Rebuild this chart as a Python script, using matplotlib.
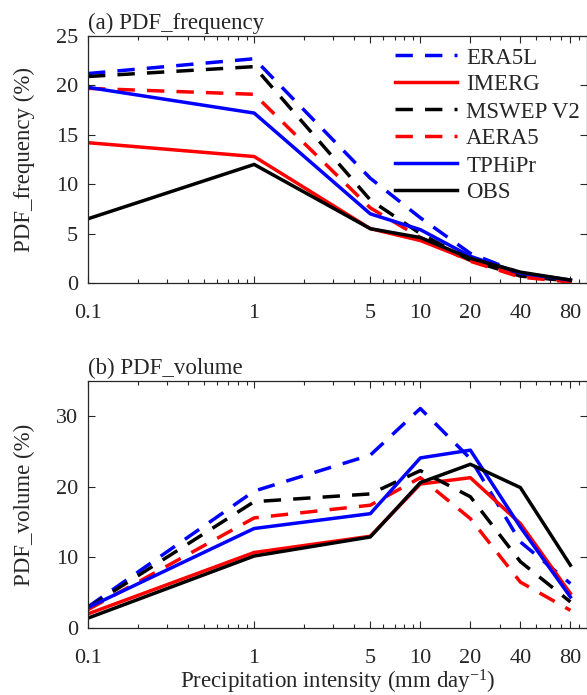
import numpy as np
import matplotlib
matplotlib.use("Agg")
import matplotlib.pyplot as plt

plt.rcParams['font.family'] = ['Liberation Serif', 'DejaVu Serif']
plt.rcParams['mathtext.fontset'] = 'custom'
plt.rcParams['mathtext.rm'] = 'Liberation Serif'
plt.rcParams['mathtext.default'] = 'regular'

# precipitation intensity bins (mm/day)
x = [0.1, 1, 5, 10, 20, 40, 80]
xtick_labels = ['0.1', '1', '5', '10', '20', '40', '80']

names = ['ERA5L', 'IMERG', 'MSWEP V2', 'AERA5', 'TPHiPr', 'OBS']
colors = ['b', 'r', 'k', 'r', 'b', 'k']
styles = ['--', '-', '--', '--', '-', '-']

# PDF of frequency (%)
freq_era5l = [21.2, 22.7, 10.6, 6.6, 3.0, 1.0, 0.2]
freq_imerg = [14.2, 12.8, 5.5, 4.3, 2.3, 0.8, 0.2]
freq_mswep = [20.9, 21.9, 8.4, 5.0, 2.3, 0.7, 0.2]
freq_aera5 = [19.7, 19.1, 7.6, 4.6, 2.2, 0.6, 0.1]
freq_tphipr = [19.8, 17.2, 7.0, 5.4, 2.7, 1.0, 0.3]
freq_obs = [6.5, 12.0, 5.5, 4.6, 2.5, 1.1, 0.3]

# PDF of volume (%)
vol_era5l = [3.0, 19.4, 24.5, 31.1, 24.0, 12.2, 6.3]
vol_imerg = [2.0, 10.7, 13.0, 20.4, 21.3, 14.8, 4.9]
vol_mswep = [2.9, 17.9, 19.0, 22.3, 18.6, 9.4, 3.7]
vol_aera5 = [2.6, 15.6, 17.4, 21.3, 15.5, 6.5, 2.5]
vol_tphipr = [2.9, 14.1, 16.2, 24.1, 25.2, 14.3, 4.4]
vol_obs = [1.4, 10.2, 12.9, 20.6, 23.2, 19.9, 8.9]

freq = [freq_era5l, freq_imerg, freq_mswep, freq_aera5, freq_tphipr, freq_obs]
vol = [vol_era5l, vol_imerg, vol_mswep, vol_aera5, vol_tphipr, vol_obs]

axc = '#262626'
fs = 16.5
fig = plt.figure(figsize=(5.87, 6.95), dpi=100)
ax1 = fig.add_axes([88 / 587, 1 - 283 / 695, 498.5 / 587, 247 / 695])
ax2 = fig.add_axes([88 / 587, 1 - 628 / 695, 498.5 / 587, 247 / 695])


def style_axis(ax, ylim, yticks):
    ax.set_xscale('log')
    ax.set_xlim(0.1, 100)
    ax.set_xticks(x)
    ax.set_xticklabels(xtick_labels)
    ax.set_ylim(*ylim)
    ax.set_yticks(yticks)
    ax.tick_params(which='both', direction='in', top=True, right=True,
                   colors=axc, labelsize=16, labelcolor=axc)
    ax.tick_params(which='major', length=5, width=0.8)
    ax.tick_params(axis='x', which='major', pad=15)
    ax.tick_params(axis='y', which='major', pad=7)
    ax.tick_params(which='minor', length=3, width=0.8)
    for s in ax.spines.values():
        s.set_color(axc)
        s.set_linewidth(0.9)


for vals, c, ls, n in zip(freq, colors, styles, names):
    ln, = ax1.plot(x, vals, color=c, linestyle=ls, linewidth=2.5, label=n)
    if ls == '--':
        ln.set_dashes((5, 3.5))
for vals, c, ls in zip(vol, colors, styles):
    ln, = ax2.plot(x, vals, color=c, linestyle=ls, linewidth=2.5)
    if ls == '--':
        ln.set_dashes((5, 3.5))

style_axis(ax1, (0, 25), [0, 5, 10, 15, 20, 25])
style_axis(ax2, (0, 35), [0, 10, 20, 30])

ax1.set_ylabel('PDF_frequency (%)', fontsize=fs, color=axc, labelpad=15)
ax2.set_ylabel('PDF_volume (%)', fontsize=fs, color=axc, labelpad=15)
ax2.set_xlabel('Precipitation intensity (mm day$^{-1}$)', fontsize=fs,
               color=axc, labelpad=0)
ax1.set_title('(a) PDF_frequency', loc='left', fontsize=fs, color=axc, pad=5)
ax2.set_title('(b) PDF_volume', loc='left', fontsize=fs, color=axc, pad=5)

leg = ax1.legend(loc='upper right', frameon=False, fontsize=fs,
                 handlelength=2.7, handletextpad=0.4, labelspacing=0.26,
                 borderaxespad=0.1, bbox_to_anchor=(1.01, 1.0))
for t in leg.get_texts():
    t.set_color(axc)

fig.savefig('out.png', dpi=100)
